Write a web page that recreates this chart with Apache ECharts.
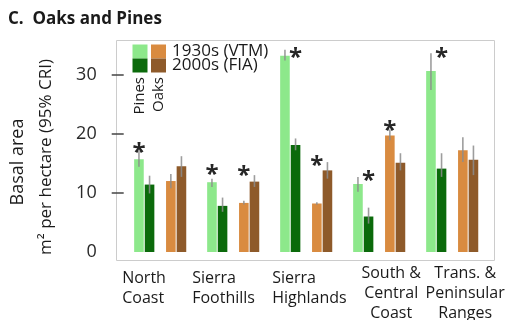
<!DOCTYPE html>
<html>
<head>
<meta charset="utf-8">
<script src="https://cdn.jsdelivr.net/npm/echarts@6/dist/echarts.min.js"></script>
<style>
  html, body { margin: 0; padding: 0; background: #ffffff; }
  #chart { width: 521px; height: 320px; }
</style>
</head>
<body>
<div id="chart"></div>
<script>
// Regions (x categories)
const regions = ['North\nCoast', 'Sierra\nFoothills', 'Sierra\nHighlands', 'South &\nCentral\nCoast', 'Trans. &\nPeninsular\nRanges'];

// Basal area (m² per hectare), means with 95% credible intervals
const pines1930   = [15.7, 11.8, 33.2, 11.5, 30.6];
const pines1930Lo = [14.4, 11.0, 32.4, 10.2, 27.4];
const pines1930Hi = [17.1, 12.4, 34.2, 12.7, 33.6];

const pines2000   = [11.4, 7.8, 18.1, 6.0, 14.1];
const pines2000Lo = [9.9, 6.8, 17.2, 4.8, 12.7];
const pines2000Hi = [12.9, 9.2, 19.2, 7.5, 16.7];

const oaks1930    = [12.0, 8.3, 8.2, 19.7, 17.2];
const oaks1930Lo  = [10.8, 8.05, 8.0, 18.9, 15.2];
const oaks1930Hi  = [13.2, 8.65, 8.4, 20.7, 19.4];

const oaks2000    = [14.5, 11.9, 13.8, 15.1, 15.6];
const oaks2000Lo  = [12.7, 11.0, 12.4, 13.8, 13.0];
const oaks2000Hi  = [16.2, 13.0, 15.2, 16.7, 18.0];

// Significant changes: [region index, bar slot the star sits over, star height]
const significance = [
  [0, 0, 17.7],
  [1, 0, 14.0],
  [1, 2, 13.8],
  [2, 1, 33.8],
  [2, 2, 15.5],
  [3, 1, 13.0],
  [3, 2, 21.4],
  [4, 1, 33.8]
];

// Y axis tick labels
const yTicks = [0, 10, 20, 30];
const yTickMarks = [10, 20, 30];

const FONT = '"Open Sans", "DejaVu Sans", sans-serif';

// Bar slots inside each region band: left edge and width as a fraction of the band
const BAR_W = 0.1315;
const SLOT_LEFT = [-0.3568, -0.2116, 0.0801, 0.2253];

const groups = [
  { name: 'Pines 1930s (VTM)', values: pines1930, lo: pines1930Lo, hi: pines1930Hi, color: '#8de88b', slot: 0 },
  { name: 'Pines 2000s (FIA)', values: pines2000, lo: pines2000Lo, hi: pines2000Hi, color: '#0b6a0b', slot: 1 },
  { name: 'Oaks 1930s (VTM)',  values: oaks1930,  lo: oaks1930Lo,  hi: oaks1930Hi,  color: '#d98b40', slot: 2 },
  { name: 'Oaks 2000s (FIA)',  values: oaks2000,  lo: oaks2000Lo,  hi: oaks2000Hi,  color: '#8e5a2a', slot: 3 }
];

function barSeries(g) {
  return {
    type: 'custom',
    name: g.name,
    z: 2,
    data: g.values.map((v, i) => [i, v]),
    renderItem: function (params, api) {
      const i = api.value(0);
      const band = api.size([1, 0])[0];
      const base = api.coord([i, 0]);
      const top = api.coord([i, api.value(1)]);
      return {
        type: 'rect',
        shape: { x: base[0] + SLOT_LEFT[g.slot] * band, y: top[1], width: BAR_W * band, height: base[1] - top[1] },
        style: { fill: g.color }
      };
    }
  };
}

function errorSeries(g) {
  return {
    type: 'custom',
    name: g.name + ' CRI',
    z: 3,
    data: g.values.map((v, i) => [i, g.lo[i], g.hi[i]]),
    renderItem: function (params, api) {
      const i = api.value(0);
      const band = api.size([1, 0])[0];
      const lo = api.coord([i, api.value(1)]);
      const hi = api.coord([i, api.value(2)]);
      const x = lo[0] + (SLOT_LEFT[g.slot] + BAR_W / 2) * band;
      return {
        type: 'line',
        shape: { x1: x, y1: lo[1], x2: x, y2: hi[1] },
        style: { stroke: 'rgba(140,140,140,0.85)', lineWidth: 1.6 }
      };
    }
  };
}

const starSeries = {
  type: 'custom',
  name: 'significance',
  z: 4,
  data: significance,
  renderItem: function (params, api) {
    const i = api.value(0);
    const slot = api.value(1);
    const band = api.size([1, 0])[0];
    const p = api.coord([i, api.value(2)]);
    return {
      type: 'text',
      x: p[0] + (SLOT_LEFT[slot] + BAR_W / 2) * band,
      y: p[1] + 6,
      style: { text: '*', fill: '#262626', font: 'bold 24px ' + FONT, align: 'center', verticalAlign: 'middle' }
    };
  }
};

const chart = echarts.init(document.getElementById('chart'), null, { renderer: 'canvas' });

const option = {
  animation: false,
  backgroundColor: '#ffffff',
  grid: { left: 123.7, right: 32.3, top: 45, bottom: 68 },
  xAxis: {
    type: 'category',
    data: regions,
    boundaryGap: true,
    axisLine: { show: false },
    axisTick: { show: false },
    axisLabel: { show: false },
    splitLine: { show: false }
  },
  yAxis: {
    type: 'value',
    min: 0,
    max: 35,
    axisLine: { show: false },
    splitLine: { show: false },
    axisTick: { show: true, length: 12, customValues: yTickMarks, lineStyle: { color: '#444444', width: 1.5 } },
    axisLabel: { customValues: yTicks, margin: 27, color: '#2a2a2a', fontSize: 18, fontFamily: FONT }
  },
  series: groups.map(barSeries).concat(groups.map(errorSeries)).concat([starSeries])
};
chart.setOption(option);

// Region labels under the plot, placed from the category axis positions
const labelLayout = [
  { dx: -38, align: 'left',   y: 268 },
  { dx: -41, align: 'left',   y: 268 },
  { dx: -34, align: 'left',   y: 268 },
  { dx: 12,  align: 'center', y: 263 },
  { dx: 13,  align: 'center', y: 263 }
];

const graphics = [
  // plot frame
  { type: 'rect', z: 0, silent: true, shape: { x: 116.5, y: 40.5, width: 378, height: 220 },
    style: { fill: 'none', stroke: '#cccccc', lineWidth: 1 } },
  // title
  { type: 'text', x: 8, y: 19, style: { text: 'C.  Oaks and Pines', font: 'bold 17px ' + FONT, fill: '#1a1a1a', verticalAlign: 'middle' } },
  // y axis title
  { type: 'text', x: 18, y: 162, rotation: Math.PI / 2,
    style: { text: 'Basal area', font: '18px ' + FONT, fill: '#1a1a1a', align: 'center', verticalAlign: 'middle' } },
  { type: 'text', x: 46, y: 157, rotation: Math.PI / 2,
    style: { text: 'm² per hectare (95% CRI)', font: '17px ' + FONT, fill: '#1a1a1a', align: 'center', verticalAlign: 'middle' } },
  // legend swatches
  { type: 'rect', shape: { x: 132.5, y: 44.5, width: 15, height: 14 }, style: { fill: groups[0].color } },
  { type: 'rect', shape: { x: 132.5, y: 58.5, width: 15, height: 14 }, style: { fill: groups[1].color } },
  { type: 'rect', shape: { x: 151, y: 44.5, width: 15, height: 14 }, style: { fill: groups[2].color } },
  { type: 'rect', shape: { x: 151, y: 58.5, width: 15, height: 14 }, style: { fill: groups[3].color } },
  { type: 'text', x: 172, y: 51, style: { text: '1930s (VTM)', font: '17px ' + FONT, fill: '#1a1a1a', verticalAlign: 'middle' } },
  { type: 'text', x: 172, y: 65.5, style: { text: '2000s (FIA)', font: '17px ' + FONT, fill: '#1a1a1a', verticalAlign: 'middle' } },
  { type: 'text', x: 140, y: 77, rotation: Math.PI / 2,
    style: { text: 'Pines', font: '15px ' + FONT, fill: '#1a1a1a', align: 'right', verticalAlign: 'middle' } },
  { type: 'text', x: 158.5, y: 77, rotation: Math.PI / 2,
    style: { text: 'Oaks', font: '15px ' + FONT, fill: '#1a1a1a', align: 'right', verticalAlign: 'middle' } }
];

regions.forEach(function (name, i) {
  const cx = chart.convertToPixel({ xAxisIndex: 0 }, i);
  const l = labelLayout[i];
  graphics.push({
    type: 'text', x: cx + l.dx, y: l.y,
    style: { text: name, font: '16px ' + FONT, lineHeight: 20, fill: '#1a1a1a', align: l.align, verticalAlign: 'top' }
  });
});

chart.setOption({ graphic: graphics });
</script>
</body>
</html>
